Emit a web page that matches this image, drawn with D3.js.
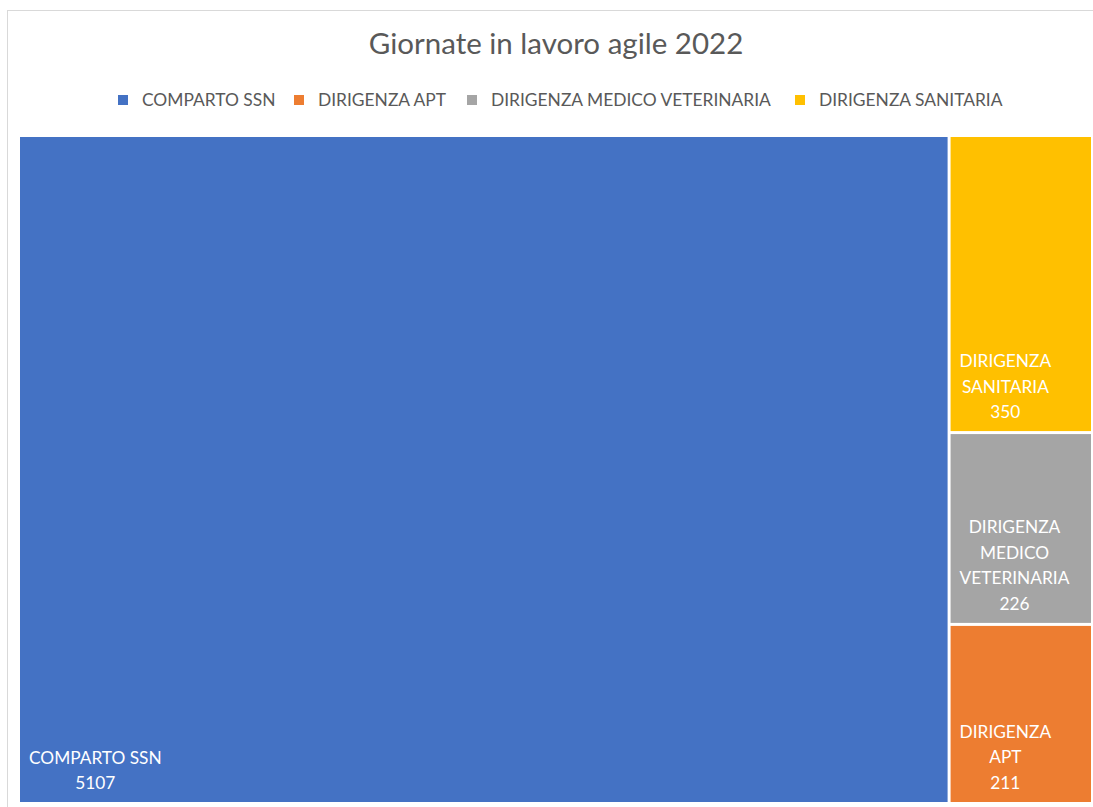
<!DOCTYPE html>
<html>
<head>
<meta charset="utf-8">
<script src="https://cdn.jsdelivr.net/npm/d3@7"></script>
<style>
  html, body { margin: 0; padding: 0; background: #fff; }
  svg { display: block; }
  text { font-family: Lato, "Open Sans", sans-serif; }
</style>
</head>
<body>
<svg id="chart" width="1093" height="807"></svg>
<script>
// Giornate in lavoro agile 2022, per ruolo
const categories = ["COMPARTO SSN", "DIRIGENZA APT", "DIRIGENZA MEDICO VETERINARIA", "DIRIGENZA SANITARIA"];
const values = [5107, 211, 226, 350];
const colors = ["#4472C4", "#ED7D31", "#A5A5A5", "#FFC000"];
const title = "Giornate in lavoro agile 2022";

const svg = d3.select("#chart");

// chart frame
svg.append("rect")
  .attr("x", 7.5).attr("y", 10.5)
  .attr("width", 1100).attr("height", 820)
  .attr("fill", "#fff").attr("stroke", "#d9d9d9");

svg.append("text")
  .attr("x", 556).attr("y", 54)
  .attr("text-anchor", "middle")
  .attr("font-size", 29.5)
  .attr("fill", "#595959")
  .text(title);

// legend
const color = d3.scaleOrdinal().domain(categories).range(colors);
const legendX = [118, 294, 467, 795];
const legend = svg.append("g");
categories.forEach((c, i) => {
  const g = legend.append("g").attr("transform", `translate(${legendX[i]},100)`);
  g.append("rect").attr("x", 0).attr("y", -5).attr("width", 10).attr("height", 10).attr("fill", color(c));
  g.append("text").attr("x", 24).attr("y", 6).attr("font-size", 17.4).attr("fill", "#595959").text(c);
});

// treemap
const root = d3.hierarchy({ children: categories.map((c, i) => ({ name: c, value: values[i] })) })
  .sum(d => d.value || 0)
  .sort((a, b) => b.value - a.value);

d3.treemap()
  .tile(d3.treemapSquarify)
  .size([1071, 665])
  .paddingInner(3)(root);

const cells = svg.append("g").attr("transform", "translate(20,137)")
  .selectAll("g").data(root.leaves()).join("g")
  .attr("transform", d => `translate(${d.x0},${d.y0})`);

cells.append("rect")
  .attr("width", d => d.x1 - d.x0)
  .attr("height", d => d.y1 - d.y0)
  .attr("fill", d => color(d.data.name));

const lineH = 25.5;
cells.each(function (d) {
  const g = d3.select(this);
  const w = d.x1 - d.x0, h = d.y1 - d.y0;
  const maxW = Math.min(w - 22, 180);
  const t = g.append("text").attr("font-size", 17.3).attr("fill", "#fff").attr("text-anchor", "middle");
  // wrap category name into lines that fit the cell
  const words = d.data.name.split(" ");
  const lines = [];
  let cur = "";
  const probe = t.append("tspan");
  words.forEach(wd => {
    const test = cur ? cur + " " + wd : wd;
    probe.text(test);
    if (probe.node().getComputedTextLength() > maxW && cur) { lines.push(cur); cur = wd; }
    else cur = test;
  });
  lines.push(cur);
  lines.push(d3.format("d")(d.value));
  let widest = 0;
  lines.forEach(l => { probe.text(l); widest = Math.max(widest, probe.node().getComputedTextLength()); });
  probe.remove();
  const cx = 9 + widest / 2;
  const lastY = h - 13;
  lines.forEach((l, i) => {
    t.append("tspan").attr("x", cx).attr("y", lastY - (lines.length - 1 - i) * lineH).text(l);
  });
});
</script>
</body>
</html>
